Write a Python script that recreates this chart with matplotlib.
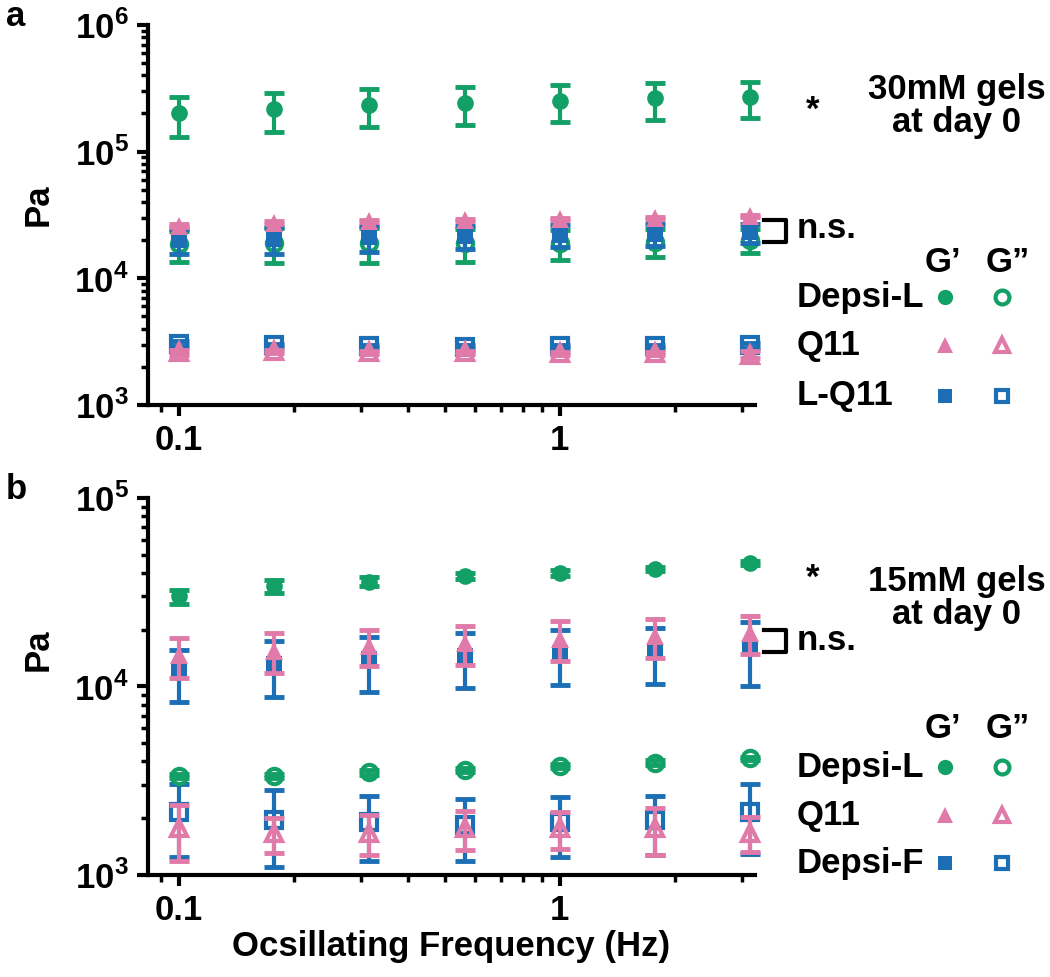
import numpy as np
import matplotlib
matplotlib.use("Agg")
import matplotlib.pyplot as plt
from matplotlib.lines import Line2D
from matplotlib.ticker import LogLocator, FixedLocator, NullFormatter, FuncFormatter

plt.rcParams["font.family"] = ["Liberation Sans", "DejaVu Sans"]
plt.rcParams["font.weight"] = "bold"
plt.rcParams["mathtext.fontset"] = "custom"
plt.rcParams["mathtext.rm"] = "Liberation Sans:bold"
plt.rcParams["mathtext.bf"] = "Liberation Sans:bold"

GREEN = "#13a066"
PINK = "#e07aa8"
BLUE = "#1c6fb5"

# ── data ──────────────────────────────────────────────────────────────────────
freq = [0.1, 0.178, 0.316, 0.562, 1.0, 1.78, 3.16]

# panel a: 30 mM gels
dl_gp_30 = [2.0e5, 2.18e5, 2.33e5, 2.43e5, 2.53e5, 2.63e5, 2.7e5]
dl_gp_30_err = [0.69e5, 0.74e5, 0.78e5, 0.80e5, 0.83e5, 0.87e5, 0.87e5]
dl_gpp_30 = [1.85e4, 1.9e4, 1.9e4, 1.9e4, 1.9e4, 1.95e4, 2.0e4]
dl_gpp_30_err = [5.0e3, 5.8e3, 5.8e3, 5.5e3, 5.0e3, 4.8e3, 4.3e3]
q11_gp_30 = [2.6e4, 2.75e4, 2.85e4, 2.9e4, 2.95e4, 3.0e4, 3.1e4]
q11_gp_30_err = [6e2, 6e2, 6e2, 6e2, 6e2, 6e2, 6e2]
lq_gp_30 = [2.0e4, 2.05e4, 2.1e4, 2.15e4, 2.2e4, 2.25e4, 2.3e4]
lq_gp_30_err = [4.5e3, 5.0e3, 5.0e3, 4.5e3, 4.5e3, 4.5e3, 4.0e3]
q11_gpp_30 = [2.6e3, 2.65e3, 2.6e3, 2.6e3, 2.55e3, 2.55e3, 2.5e3]
q11_gpp_30_err = [1.0e2, 0.8e2, 0.8e2, 0.8e2, 0.8e2, 0.8e2, 1.5e2]
lq_gpp_30 = [3.05e3, 2.95e3, 2.9e3, 2.85e3, 2.9e3, 2.9e3, 2.95e3]
lq_gpp_30_err = [1.5e2, 1.0e2, 1.0e2, 1.0e2, 1.0e2, 1.0e2, 1.5e2]

# panel b: 15 mM gels
dl_gp_15 = [3.0e4, 3.4e4, 3.6e4, 3.85e4, 4.0e4, 4.2e4, 4.5e4]
dl_gp_15_err = [2.5e3, 2.8e3, 2.0e3, 1.5e3, 1.5e3, 1.2e3, 1.0e3]
dl_gpp_15 = [3.35e3, 3.35e3, 3.5e3, 3.6e3, 3.8e3, 3.95e3, 4.15e3]
dl_gpp_15_err = [1.0e2, 1.0e2, 1.2e2, 1.0e2, 1.0e2, 1.0e2, 1.0e2]
q11_gp_15 = [1.46e4, 1.55e4, 1.64e4, 1.7e4, 1.79e4, 1.85e4, 1.92e4]
q11_gp_15_err = [3.5e3, 3.75e3, 3.6e3, 3.95e3, 4.3e3, 4.35e3, 4.4e3]
df_gp_15 = [1.2e4, 1.31e4, 1.39e4, 1.45e4, 1.51e4, 1.54e4, 1.6e4]
df_gp_15_err = [3.7e3, 4.3e3, 4.5e3, 4.7e3, 4.9e3, 5.1e3, 6.0e3]
q11_gpp_15 = [1.77e3, 1.66e3, 1.68e3, 1.77e3, 1.77e3, 1.77e3, 1.68e3]
q11_gpp_15_err = [5.8e2, 3.5e2, 4.0e2, 4.2e2, 4.0e2, 5.0e2, 3.5e2]
df_gpp_15 = [2.15e3, 1.96e3, 1.9e3, 1.85e3, 1.91e3, 1.96e3, 2.17e3]
df_gpp_15_err = [9.0e2, 8.6e2, 7.2e2, 6.7e2, 6.7e2, 6.8e2, 8.8e2]

x_ticks = [0.1, 1]
x_ticklabels = ["0.1", "1"]


# ── helpers ───────────────────────────────────────────────────────────────────
def series(ax, y, err, color, marker, filled, ms=11, z=3):
    ax.errorbar(freq, y, yerr=err, fmt="none", ecolor=color, elinewidth=3,
                capsize=7, capthick=3.5, zorder=z, clip_on=False)
    ax.plot(freq, y, linestyle="none", marker=marker, ms=ms,
            mfc=color if filled else "none", mec=color,
            mew=0 if filled else 3, zorder=z + 0.5, clip_on=False)


def style_axis(ax, ylim):
    ax.set_xscale("log")
    ax.set_yscale("log")
    ax.set_xlim(0.083, 3.25)
    ax.set_ylim(*ylim)
    for s in ["top", "right"]:
        ax.spines[s].set_visible(False)
    for s in ["left", "bottom"]:
        ax.spines[s].set_linewidth(3)
    ax.xaxis.set_major_locator(FixedLocator(x_ticks))
    ax.xaxis.set_major_formatter(FuncFormatter(
        lambda v, p: x_ticklabels[x_ticks.index(v)] if v in x_ticks else ""))
    ax.xaxis.set_minor_locator(FixedLocator(
        [0.09, 0.2, 0.3, 0.4, 0.5, 0.6, 0.7, 0.8, 0.9, 2, 3]))
    ax.xaxis.set_minor_formatter(NullFormatter())
    ax.yaxis.set_major_locator(LogLocator(base=10, numticks=10))
    ax.yaxis.set_major_formatter(FuncFormatter(
        lambda v, p: r"$10^{%d}$" % round(np.log10(v))))
    ax.yaxis.set_minor_locator(LogLocator(base=10, subs=np.arange(2, 10), numticks=20))
    ax.yaxis.set_minor_formatter(NullFormatter())
    ax.tick_params(which="major", direction="out", length=8, width=3,
                   labelsize=25, pad=6)
    ax.tick_params(which="minor", direction="out", length=5, width=2.5)
    for lab in ax.get_xticklabels() + ax.get_yticklabels():
        lab.set_fontweight("bold")


def legend_block(fig, labels, y_rows, y_head):
    W, H = 1050.0, 977.0
    fig.text(943 / W, 1 - y_head / H, "G\u2019", fontsize=25, ha="center", va="center")
    fig.text(1008 / W, 1 - y_head / H, "G\u201d", fontsize=25, ha="center", va="center")
    specs = [(GREEN, "o"), (PINK, "^"), (BLUE, "s")]
    for lab, yy, (c, m) in zip(labels, y_rows, specs):
        fig.text(797 / W, 1 - yy / H, lab, fontsize=25, ha="left", va="center")
        ms = 10 if m == "s" else 11
        fig.add_artist(Line2D([945 / W], [1 - yy / H], marker=m, color=c, ms=ms,
                              mew=0, linestyle="none", transform=fig.transFigure))
        fig.add_artist(Line2D([1002 / W], [1 - yy / H], marker=m, color=c, ms=ms - 1,
                              mfc="none", mew=3, linestyle="none",
                              transform=fig.transFigure))


def bracket(fig, x0, x1, y0, y1):
    W, H = 1050.0, 977.0
    fig.add_artist(Line2D([x0 / W, x1 / W, x1 / W, x0 / W],
                          [1 - y0 / H, 1 - y0 / H, 1 - y1 / H, 1 - y1 / H],
                          color="black", lw=3, transform=fig.transFigure))


# ── figure ────────────────────────────────────────────────────────────────────
fig = plt.figure(figsize=(10.5, 9.77), dpi=100)
ax1 = fig.add_axes([0.141, 0.5855, 0.578, 0.389])
ax2 = fig.add_axes([0.141, 0.1044, 0.578, 0.386])

# panel a
series(ax1, dl_gp_30, dl_gp_30_err, GREEN, "o", True, ms=12)
series(ax1, dl_gpp_30, dl_gpp_30_err, GREEN, "o", False, ms=11)
series(ax1, lq_gp_30, lq_gp_30_err, BLUE, "s", True, ms=11, z=4)
series(ax1, q11_gp_30, q11_gp_30_err, PINK, "^", True, ms=13, z=5)
series(ax1, lq_gpp_30, lq_gpp_30_err, BLUE, "s", False, ms=11)
series(ax1, q11_gpp_30, q11_gpp_30_err, PINK, "^", False, ms=12, z=4)
style_axis(ax1, (1e3, 1e6))

# panel b
series(ax2, dl_gp_15, dl_gp_15_err, GREEN, "o", True, ms=12)
series(ax2, dl_gpp_15, dl_gpp_15_err, GREEN, "o", False, ms=11)
series(ax2, df_gp_15, df_gp_15_err, BLUE, "s", True, ms=11, z=4)
series(ax2, q11_gp_15, q11_gp_15_err, PINK, "^", True, ms=13, z=5)
series(ax2, df_gpp_15, df_gpp_15_err, BLUE, "s", False, ms=11)
series(ax2, q11_gpp_15, q11_gpp_15_err, PINK, "^", False, ms=12, z=4)
style_axis(ax2, (1e3, 1e5))
ax2.set_xlabel("Ocsillating Frequency (Hz)", fontsize=25, fontweight="bold", labelpad=2)

W, H = 1050.0, 977.0
fig.text(38 / W, 1 - 205 / H, "Pa", fontsize=25, rotation=90, ha="center", va="center")
fig.text(38 / W, 1 - 650 / H, "Pa", fontsize=25, rotation=90, ha="center", va="center")
fig.text(6 / W, 1 - 17 / H, "a", fontsize=25, ha="left", va="center")
fig.text(6 / W, 1 - 490 / H, "b", fontsize=25, ha="left", va="center")

# annotations panel a
fig.text(813 / W, 1 - 110 / H, "*", fontsize=25, ha="center", va="center")
fig.text(957 / W, 1 - 106 / H, "30mM gels\nat day 0", fontsize=25,
         ha="center", va="center", linespacing=1.0)
bracket(fig, 764, 786, 220, 242)
fig.text(797 / W, 1 - 229 / H, "n.s.", fontsize=25, ha="left", va="center")
legend_block(fig, ["Depsi-L", "Q11", "L-Q11"], [297, 345, 396], 262)

# annotations panel b
fig.text(813 / W, 1 - 578 / H, "*", fontsize=25, ha="center", va="center")
fig.text(957 / W, 1 - 598 / H, "15mM gels\nat day 0", fontsize=25,
         ha="center", va="center", linespacing=1.0)
bracket(fig, 764, 786, 630, 652)
fig.text(797 / W, 1 - 641 / H, "n.s.", fontsize=25, ha="left", va="center")
legend_block(fig, ["Depsi-L", "Q11", "Depsi-F"], [767, 815, 863], 728)

fig.savefig("out.png", dpi=100)
